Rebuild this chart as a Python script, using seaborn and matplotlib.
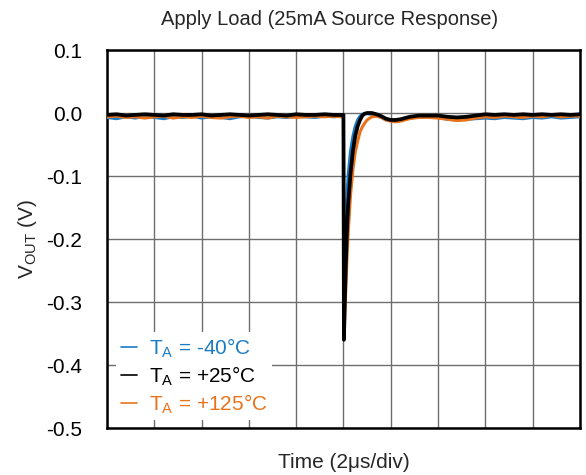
import matplotlib
matplotlib.use("Agg")
import pandas as pd
import seaborn as sns
import matplotlib.pyplot as plt
from matplotlib.lines import Line2D

# time axis in microseconds (2 us/div, 10 divisions)
TIME_US = [
    0.0, 0.4, 0.8, 1.2, 1.6, 2.0, 2.4, 2.8, 3.2, 3.6, 4.0, 4.4, 4.8, 5.2,
    5.6, 6.0, 6.4, 6.8, 7.2, 7.6, 8.0, 8.4, 8.8, 9.2, 9.6, 9.9, 10.0,
    10.02, 10.05, 10.1, 10.15, 10.2, 10.3, 10.4, 10.5, 10.6, 10.7, 10.8,
    10.9, 11.0, 11.2, 11.4, 11.6, 11.8, 12.0, 12.2, 12.4, 12.6, 12.8, 13.0,
    13.2, 13.6, 14.0, 14.4, 14.8, 15.2, 15.6, 16.0, 16.4, 16.8, 17.2, 17.6,
    18.0, 18.4, 18.8, 19.2, 19.6, 20.0,
]

V_M40 = [
    -0.007, -0.009, -0.006, -0.008, -0.005, -0.007, -0.009, -0.006, -0.007,
    -0.005, -0.008, -0.006, -0.007, -0.009, -0.006, -0.005, -0.007, -0.008,
    -0.006, -0.007, -0.005, -0.006, -0.007, -0.005, -0.006, -0.005, -0.005,
    -0.325, -0.255, -0.180, -0.130, -0.098, -0.060, -0.037, -0.021, -0.011,
    -0.005, -0.002, -0.001, -0.001, -0.002, -0.004, -0.007, -0.011, -0.012,
    -0.012, -0.011, -0.009, -0.008, -0.007, -0.006,
    -0.006, -0.007, -0.010, -0.011, -0.010, -0.009, -0.008, -0.009, -0.007,
    -0.008, -0.009, -0.007, -0.008, -0.006, -0.008, -0.007, -0.006,
]

V_P25 = [
    -0.003, -0.002, -0.004, -0.003, -0.002, -0.003, -0.004, -0.002, -0.003,
    -0.003, -0.002, -0.004, -0.003, -0.002, -0.003, -0.004, -0.003, -0.002,
    -0.003, -0.004, -0.002, -0.003, -0.003, -0.002, -0.003, -0.003, -0.003,
    -0.360, -0.310, -0.240, -0.185, -0.145, -0.095, -0.060, -0.036, -0.021,
    -0.011, -0.004, -0.001, 0.000, 0.000, -0.002, -0.005, -0.009, -0.011,
    -0.011, -0.010, -0.008, -0.006, -0.005, -0.004,
    -0.004, -0.004, -0.006, -0.007, -0.006, -0.004, -0.002, -0.003, -0.002,
    -0.003, -0.002, -0.003, -0.002, -0.003, -0.002, -0.003, -0.002,
]

V_P125 = [
    -0.006, -0.005, -0.007, -0.006, -0.008, -0.006, -0.005, -0.008, -0.006,
    -0.007, -0.005, -0.007, -0.008, -0.006, -0.005, -0.007, -0.006, -0.008,
    -0.005, -0.006, -0.007, -0.006, -0.005, -0.006, -0.005, -0.006, -0.006,
    -0.355, -0.330, -0.280, -0.230, -0.190, -0.130, -0.090, -0.062, -0.045,
    -0.030, -0.022, -0.016, -0.011, -0.006, -0.005, -0.007, -0.011, -0.013,
    -0.014, -0.013, -0.011, -0.009, -0.008, -0.007,
    -0.007, -0.008, -0.010, -0.012, -0.011, -0.008, -0.006, -0.007, -0.005,
    -0.006, -0.007, -0.005, -0.006, -0.004, -0.006, -0.005, -0.005,
]

LABELS = [
    r"T$_\mathrm{A}$ = -40°C",
    r"T$_\mathrm{A}$ = +25°C",
    r"T$_\mathrm{A}$ = +125°C",
]
COLORS = ["#1B7CC6", "#000000", "#E8731C"]

XTICKS = [0, 2, 4, 6, 8, 10, 12, 14, 16, 18, 20]
YTICKS = [0.1, 0.0, -0.1, -0.2, -0.3, -0.4, -0.5]
YTICK_LABELS = ["0.1", "0.0", "-0.1", "-0.2", "-0.3", "-0.4", "-0.5"]


def main():
    frames = []
    for label, values in zip(LABELS, [V_M40, V_P25, V_P125]):
        frames.append(pd.DataFrame({"t": TIME_US, "v": values, "series": label}))
    df = pd.concat(frames, ignore_index=True)
    style_plot(df)


def style_plot(df: pd.DataFrame) -> None:
    sns.set_theme(style="white")
    plt.rcParams["font.family"] = ["Liberation Sans", "DejaVu Sans"]
    plt.rcParams["mathtext.fontset"] = "custom"
    plt.rcParams["mathtext.rm"] = "Liberation Sans"
    plt.rcParams["axes.unicode_minus"] = False

    fig = plt.figure(figsize=(5.86, 4.75), dpi=100)
    ax = fig.add_axes([0.1826, 0.0989, 0.807, 0.7958])

    # -40 first, +125 over it, +25 on top
    styles = {
        LABELS[0]: (COLORS[0], 2.2, 3),
        LABELS[2]: (COLORS[2], 2.2, 4),
        LABELS[1]: (COLORS[1], 2.7, 5),
    }
    for label, (color, lw, z) in styles.items():
        sns.lineplot(
            data=df[df["series"] == label],
            x="t",
            y="v",
            color=color,
            linewidth=lw,
            estimator=None,
            sort=False,
            ax=ax,
            zorder=z,
        )

    ax.set_xlim(0, 20)
    ax.set_ylim(-0.5, 0.1)
    ax.set_xticks(XTICKS)
    ax.set_xticklabels([""] * len(XTICKS))
    ax.set_yticks(YTICKS)
    ax.set_yticklabels(YTICK_LABELS, fontsize=15, color="black")
    ax.tick_params(axis="both", length=0)
    ax.tick_params(axis="y", pad=18)
    ax.grid(True, color="#6E6E6E", linewidth=1.0)
    ax.set_axisbelow(True)
    for spine in ax.spines.values():
        spine.set_visible(True)
        spine.set_color("black")
        spine.set_linewidth(1.8)

    ax.set_xlabel("Time (2μs/div)", fontsize=15, va="center")
    ax.xaxis.set_label_coords(0.5, -0.09)
    ax.set_ylabel(r"V$_\mathrm{OUT}$ (V)", fontsize=15, va="center")
    ax.yaxis.set_label_coords(-0.169, 0.5)
    fig.text(0.563, 0.958, "Apply Load (25mA Source Response)",
             fontsize=14.5, ha="center", va="center")

    handles = [Line2D([], [], color=c, linewidth=1.2) for c in COLORS]
    leg = ax.legend(
        handles,
        LABELS,
        loc="lower left",
        bbox_to_anchor=(0.02, 0.02),
        fontsize=15,
        frameon=True,
        fancybox=False,
        framealpha=1,
        handlelength=0.8,
        handletextpad=0.55,
        labelspacing=0.22,
        borderpad=0.2,
        borderaxespad=0,
    )
    leg.get_frame().set_edgecolor("none")
    leg.get_frame().set_facecolor("white")
    for text, c in zip(leg.get_texts(), COLORS):
        text.set_color(c)

    fig.set_facecolor("white")
    fig.savefig("out.png", dpi=100)


if __name__ == "__main__":
    main()
